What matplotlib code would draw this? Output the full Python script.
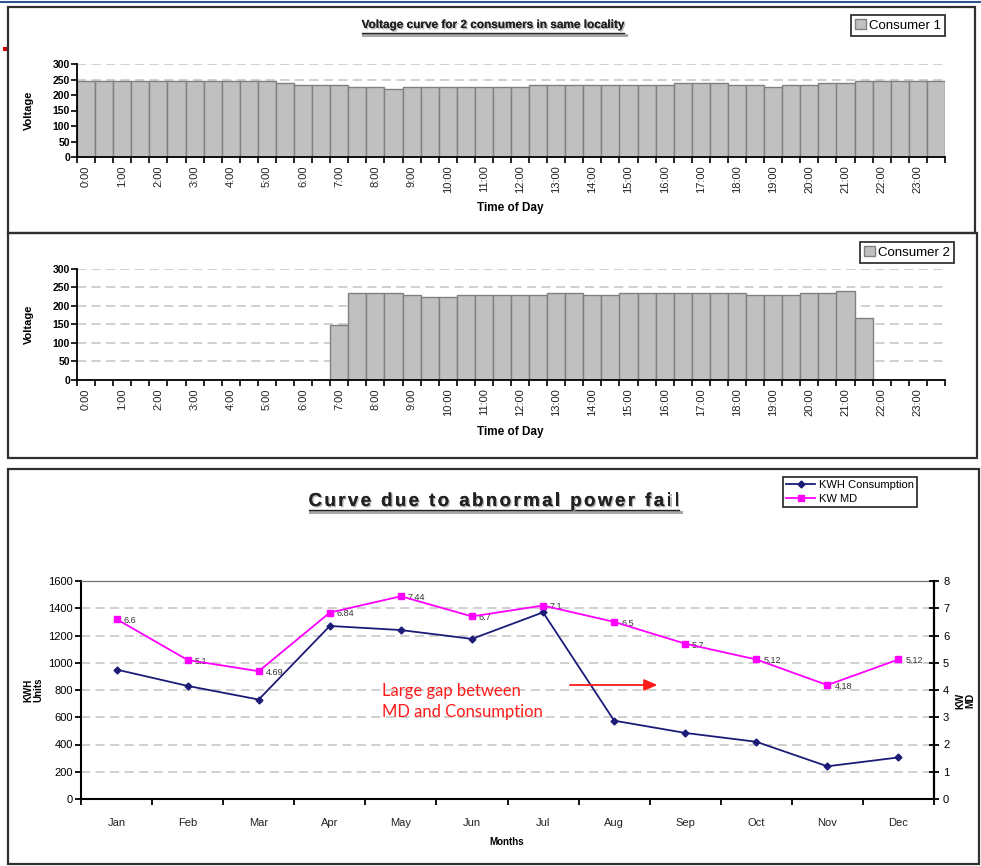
import matplotlib
matplotlib.use("Agg")
import matplotlib.pyplot as plt
import matplotlib.patheffects as pe
from matplotlib.patches import Rectangle, Patch
from matplotlib.lines import Line2D

plt.rcParams['font.family'] = ['Liberation Sans', 'DejaVu Sans']

# Half-hourly voltage readings (48 slots per day)
consumer1 = [246, 246, 246, 246, 246, 246, 246, 246, 246, 246, 246, 240,
             232, 232, 232, 225, 225, 220, 225, 225, 225, 225, 225, 225,
             225, 232, 232, 232, 232, 232, 232, 232, 232, 238, 238, 238,
             231, 231, 225, 231, 231, 238, 238, 245, 245, 245, 245, 245]
consumer2 = [0, 0, 0, 0, 0, 0, 0, 0, 0, 0, 0, 0,
             0, 0, 148, 234, 234, 234, 229, 224, 224, 228, 228, 228,
             228, 228, 234, 234, 228, 228, 234, 234, 234, 234, 234, 234,
             234, 228, 228, 228, 234, 234, 240, 168, 0, 0, 0, 0]
hour_labels = ["0:00", "1:00", "2:00", "3:00", "4:00", "5:00", "6:00", "7:00",
               "8:00", "9:00", "10:00", "11:00", "12:00", "13:00", "14:00",
               "15:00", "16:00", "17:00", "18:00", "19:00", "20:00", "21:00",
               "22:00", "23:00"]

# Monthly consumption and maximum demand
months = ["Jan", "Feb", "Mar", "Apr", "May", "Jun", "Jul", "Aug", "Sep", "Oct", "Nov", "Dec"]
kwh = [950, 830, 730, 1270, 1240, 1175, 1370, 575, 485, 420, 240, 305]
kw_md = [6.6, 5.1, 4.69, 6.84, 7.44, 6.7, 7.1, 6.5, 5.7, 5.12, 4.18, 5.12]

W, H = 981, 866
fig = plt.figure(figsize=(W / 100, H / 100), dpi=100)
fig.patch.set_facecolor("white")


def fx(px):
    return px / W


def fy(py):
    return 1 - py / H


def frame(x0, y0, x1, y1, lw=1.6, color="#303030"):
    fig.add_artist(Rectangle((fx(x0), fy(y1)), fx(x1) - fx(x0), fy(y0) - fy(y1),
                             transform=fig.transFigure, fill=False, lw=lw, ec=color))


# page decorations and panel frames
fig.add_artist(Line2D([0, 1], [fy(2), fy(2)], transform=fig.transFigure, color="#2f5597", lw=1.5))
fig.add_artist(Rectangle((fx(3), fy(51)), fx(4), 4 / H, transform=fig.transFigure, color="#d00000", lw=0))
frame(8, 7, 975, 233)
frame(8, 233, 977, 458)
frame(8, 469, 979, 864)

GRID = dict(color="#c4c4c4", lw=1.1, linestyle=(0, (6, 3.5)))


def voltage_axes(rect, values, legend_label, legend_box):
    ax = fig.add_axes(rect)
    n = len(values)
    ax.bar(range(n), values, width=1.0, color="#c0c0c0", edgecolor="#808080", lw=1.0, zorder=2)
    ax.set_xlim(-0.5, n - 0.5)
    ax.set_ylim(0, 300)
    ax.set_yticks(range(0, 301, 50))
    for v in range(50, 301, 50):
        ax.axhline(v, zorder=1, **GRID)
    for s in ("top", "right"):
        ax.spines[s].set_visible(False)
    for s in ("left", "bottom"):
        ax.spines[s].set_linewidth(1.3)
        ax.spines[s].set_zorder(3)
    ax.set_xticks([i - 0.5 for i in range(n + 1)])
    ax.set_xticklabels([])
    ax.set_xticks(range(0, n, 2), minor=True)
    ax.set_xticklabels(hour_labels, minor=True, rotation=90, fontsize=8, color="#222222")
    ax.tick_params(axis="x", which="major", direction="out", length=4, width=1.2)
    ax.tick_params(axis="x", which="minor", length=0, pad=6)
    ax.tick_params(axis="y", direction="out", length=4, width=1.2, labelsize=7.5, pad=1)
    for t in ax.get_yticklabels():
        t.set_fontweight("bold")
    ax.set_ylabel("Voltage", fontsize=8, fontweight="bold", labelpad=2)
    ax.yaxis.set_label_coords(-0.05, 0.5)
    leg = ax.legend(handles=[Patch(fc="#c0c0c0", ec="#808080", label=legend_label)],
                    loc="upper left", bbox_to_anchor=legend_box, bbox_transform=fig.transFigure,
                    borderaxespad=0, fancybox=False, edgecolor="black", fontsize=9.5,
                    handlelength=0.8, handleheight=0.8, handletextpad=0.3, borderpad=0.3)
    leg.get_frame().set_linewidth(1.3)
    return ax


ax1 = voltage_axes([fx(77), fy(157), fx(945) - fx(77), fy(64) - fy(157)], consumer1,
                   "Consumer 1", (fx(851), fy(15)))
ax2 = voltage_axes([fx(77), fy(380), fx(945) - fx(77), fy(268.7) - fy(380)], consumer2,
                   "Consumer 2", (fx(860), fy(242)))

fig.text(fx(510), fy(208), "Time of Day", ha="center", va="center", fontsize=8.5, fontweight="bold")
fig.text(fx(510), fy(432), "Time of Day", ha="center", va="center", fontsize=8.5, fontweight="bold")

shadow = [pe.withSimplePatchShadow(offset=(1.0, -1.0), shadow_rgbFace="#a8a8a8", alpha=0.8), pe.Normal()]
title1 = fig.text(fx(493), fy(25), "Voltage curve for 2 consumers in same locality", ha="center",
                  va="center", fontsize=8.5, fontweight="bold", color="#222222", path_effects=shadow)

# monthly chart
ax3 = fig.add_axes([fx(81), fy(799), fx(934) - fx(81), fy(581) - fy(799)])
x = list(range(len(months)))
ax3.set_xlim(-0.5, len(months) - 0.5)
ax3.set_ylim(0, 1600)
ax3.set_yticks(range(0, 1601, 200))
for v in range(200, 1401, 200):
    ax3.axhline(v, zorder=1, **GRID)
ax3.plot(x, kwh, color="#1c1c78", lw=1.3, marker="D", ms=3.5, zorder=4, label="KWH Consumption")
ax3.set_xticks([i - 0.5 for i in range(len(months) + 1)])
ax3.set_xticklabels([])
ax3.set_xticks(x, minor=True)
ax3.set_xticklabels(months, minor=True, fontsize=8, color="#222222")
ax3.tick_params(axis="x", which="major", direction="out", length=4, width=1.3)
ax3.tick_params(axis="x", which="minor", length=0, pad=14)
ax3.tick_params(axis="y", direction="out", length=4, width=1.3, labelsize=8, pad=2)
ax3.spines["top"].set_color("#707070")
ax3.spines["top"].set_linewidth(0.9)
ax3.spines["right"].set_visible(False)
for s in ("left", "bottom"):
    ax3.spines[s].set_linewidth(1.5)

ax4 = ax3.twinx()
ax4.set_ylim(0, 8)
ax4.set_yticks(range(0, 9))
ax4.plot(x, kw_md, color="#ff00ff", lw=1.3, marker="s", ms=5, zorder=5, label="KW MD")
for xi, v in zip(x, kw_md):
    ax4.annotate(f"{v:g}", (xi, v), xytext=(5, -1), textcoords="offset points",
                 fontsize=6.5, color="#333333", va="center", ha="left")
ax4.tick_params(axis="y", direction="inout", length=7, width=1.3, labelsize=8, pad=3)
for s in ("top", "left", "bottom"):
    ax4.spines[s].set_visible(False)
ax4.spines["right"].set_linewidth(1.6)

ax3.text(-0.056, 0.5, "KWH\nUnits", transform=ax3.transAxes, rotation=90, ha="center", va="center",
         fontsize=7, fontweight="bold", linespacing=1.0)
ax3.text(1.037, 0.45, "KW\nMD", transform=ax3.transAxes, rotation=90, ha="center", va="center",
         fontsize=7, fontweight="bold", linespacing=1.0)
fig.text(fx(507), fy(842), "Months", ha="center", va="center", fontsize=7, fontweight="bold")

ax4.text(0.353, 0.447, "Large gap between\nMD and Consumption", transform=ax3.transAxes,
         ha="left", va="center", fontsize=12, color="#ff1a1a", family=["Lato", "DejaVu Sans"],
         linespacing=1.45)
ax4.annotate("", xy=(0.679, 0.523), xytext=(0.570, 0.523), xycoords=ax3.transAxes,
             textcoords=ax3.transAxes,
             arrowprops=dict(arrowstyle="-|>,head_length=0.8,head_width=0.35", color="#ff1a1a", lw=1.3))

leg3 = ax4.legend(handles=ax3.get_lines()[-1:] + ax4.get_lines()[:1], loc="upper left",
                  bbox_to_anchor=(fx(783), fy(477)), bbox_transform=fig.transFigure, borderaxespad=0,
                  fancybox=False, edgecolor="black", fontsize=8, handlelength=2.6,
                  handletextpad=0.3, borderpad=0.3, labelspacing=0.3)
leg3.get_frame().set_linewidth(1.3)


def spaced_title(text, cx, baseline_y, spacing_px, **kw):
    """Draw a title with extra tracking between letters; returns its pixel extent."""
    renderer = fig.canvas.get_renderer()
    probe = fig.text(0, 0, "", **kw)

    def width(s):
        probe.set_text(s)
        return probe.get_window_extent(renderer).width

    ref = width("x")
    total = width(text) + spacing_px * (len(text) - 1)
    start = cx - total / 2
    positions = [start + width(text[:i] + "x") - ref + i * spacing_px for i in range(len(text))]
    probe.remove()
    for ch, px in zip(text, positions):
        if ch == " ":
            continue
        fig.text(fx(px), fy(baseline_y), ch, ha="left", va="baseline", path_effects=shadow, **kw)
    return start, start + total


fig.canvas.draw()
t2_x0, t2_x1 = spaced_title("Curve due to abnormal power fail", 494, 506, 2.4,
                            fontsize=13.5, fontweight="bold", color="#222222")

# underline the titles
inv = fig.transFigure.inverted()
bb = title1.get_window_extent()
under = [((bb.x0, bb.x1), bb.y0 - 2), ((t2_x0, t2_x1), (H - 506) - 4)]
for (x0p, x1p), yp in under:
    (x0, y0), (x1, _) = inv.transform([(x0p, yp), (x1p, yp)])
    ys = y0 - 2 / H
    fig.add_artist(Line2D([x0 + 1 / W, x1 + 2 / W], [ys, ys], transform=fig.transFigure,
                          color="#a8a8a8", lw=2.2))
    fig.add_artist(Line2D([x0, x1], [y0, y0], transform=fig.transFigure, color="#222222", lw=1.0))

fig.savefig("out.png", dpi=100)
